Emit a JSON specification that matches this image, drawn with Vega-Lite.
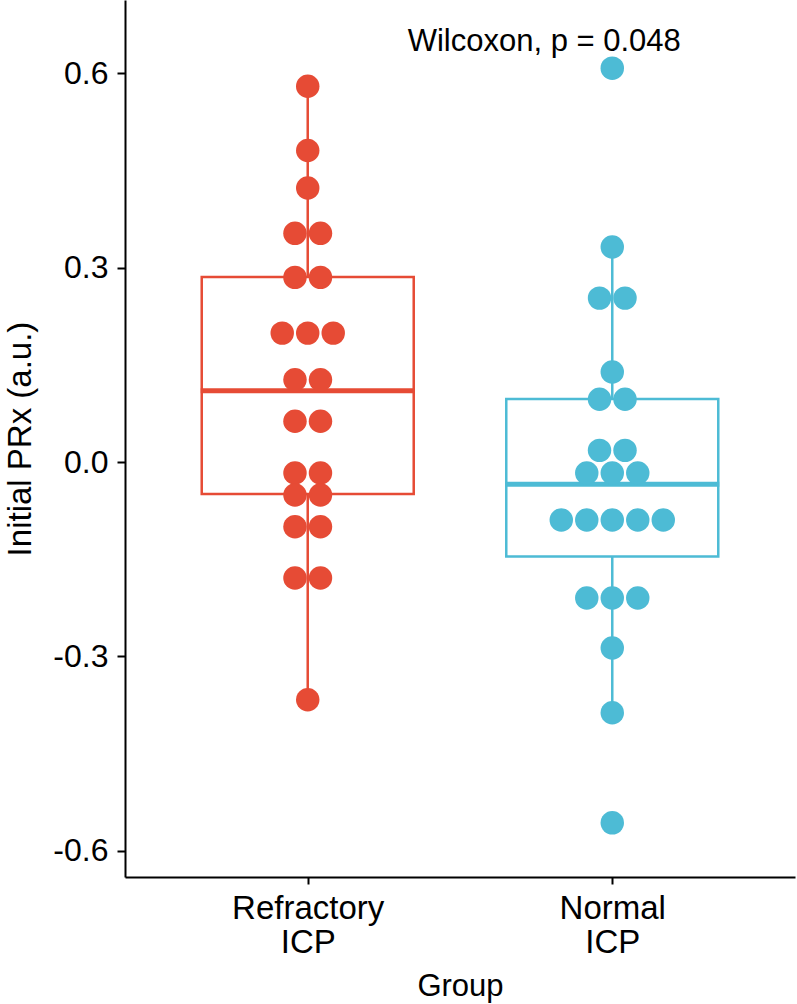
{
  "$schema": "https://vega.github.io/schema/vega-lite/v6.json",
  "width": 670,
  "height": 877,
  "autosize": "none",
  "padding": {"left": 125, "top": 0, "right": 2, "bottom": 127},
  "background": "white",
  "config": {
    "view": {"stroke": null},
    "font": "Liberation Sans",
    "axis": {
      "grid": false,
      "domainColor": "black",
      "domainWidth": 2,
      "tickColor": "black",
      "tickWidth": 2,
      "labelColor": "black",
      "titleColor": "black",
      "titleFontWeight": "normal",
      "titleFont": "Liberation Sans",
      "labelFont": "Liberation Sans"
    }
  },
  "datasets": {
    "dots": [
      {"group": "Refractory ICP", "prx": 0.580},
      {"group": "Refractory ICP", "prx": 0.481},
      {"group": "Refractory ICP", "prx": 0.423},
      {"group": "Refractory ICP", "prx": 0.353},
      {"group": "Refractory ICP", "prx": 0.353},
      {"group": "Refractory ICP", "prx": 0.285},
      {"group": "Refractory ICP", "prx": 0.285},
      {"group": "Refractory ICP", "prx": 0.199},
      {"group": "Refractory ICP", "prx": 0.199},
      {"group": "Refractory ICP", "prx": 0.199},
      {"group": "Refractory ICP", "prx": 0.127},
      {"group": "Refractory ICP", "prx": 0.127},
      {"group": "Refractory ICP", "prx": 0.063},
      {"group": "Refractory ICP", "prx": 0.063},
      {"group": "Refractory ICP", "prx": -0.017},
      {"group": "Refractory ICP", "prx": -0.017},
      {"group": "Refractory ICP", "prx": -0.051},
      {"group": "Refractory ICP", "prx": -0.051},
      {"group": "Refractory ICP", "prx": -0.100},
      {"group": "Refractory ICP", "prx": -0.100},
      {"group": "Refractory ICP", "prx": -0.179},
      {"group": "Refractory ICP", "prx": -0.179},
      {"group": "Refractory ICP", "prx": -0.367},
      {"group": "Normal ICP", "prx": 0.608},
      {"group": "Normal ICP", "prx": 0.332},
      {"group": "Normal ICP", "prx": 0.253},
      {"group": "Normal ICP", "prx": 0.253},
      {"group": "Normal ICP", "prx": 0.139},
      {"group": "Normal ICP", "prx": 0.097},
      {"group": "Normal ICP", "prx": 0.097},
      {"group": "Normal ICP", "prx": 0.018},
      {"group": "Normal ICP", "prx": 0.018},
      {"group": "Normal ICP", "prx": -0.017},
      {"group": "Normal ICP", "prx": -0.017},
      {"group": "Normal ICP", "prx": -0.017},
      {"group": "Normal ICP", "prx": -0.0895},
      {"group": "Normal ICP", "prx": -0.0895},
      {"group": "Normal ICP", "prx": -0.0895},
      {"group": "Normal ICP", "prx": -0.0895},
      {"group": "Normal ICP", "prx": -0.0895},
      {"group": "Normal ICP", "prx": -0.210},
      {"group": "Normal ICP", "prx": -0.210},
      {"group": "Normal ICP", "prx": -0.210},
      {"group": "Normal ICP", "prx": -0.287},
      {"group": "Normal ICP", "prx": -0.387},
      {"group": "Normal ICP", "prx": -0.557}
    ],
    "boxes": [
      {"group": "Refractory ICP", "lower": -0.367, "q1": -0.0494, "median": 0.110, "q3": 0.2856, "upper": 0.580},
      {"group": "Normal ICP", "lower": -0.387, "q1": -0.146, "median": -0.0345, "q3": 0.0973, "upper": 0.332}
    ]
  },
  "encoding": {
    "x": {
      "field": "group",
      "type": "nominal",
      "sort": null,
      "title": "Group",
      "scale": {"type": "point", "padding": 0.6, "domain": ["Refractory ICP", "Normal ICP"]},
      "axis": {
        "labelAngle": 0,
        "labelFontSize": 33,
        "labelLineHeight": 34,
        "labelPadding": 8,
        "tickSize": 7,
        "titleFontSize": 31,
        "titlePadding": 12,
        "labelExpr": "split(datum.label, ' ')"
      }
    }
  },
  "layer": [
    {
      "data": {"name": "boxes"},
      "mark": {"type": "rule", "strokeWidth": 2.5},
      "encoding": {
        "y": {
          "field": "lower",
          "type": "quantitative",
          "title": "Initial PRx (a.u.)",
          "scale": {"domain": [-0.6406, 0.7132], "nice": false, "zero": false},
          "axis": {
            "values": [-0.6, -0.3, 0, 0.3, 0.6],
            "labelExpr": "(datum.value < 0 ? '-' : '') + format(abs(datum.value), '.1f')",
            "labelFontSize": 32,
            "labelPadding": 9,
            "tickSize": 8,
            "titleFontSize": 33,
            "titlePadding": 15
          }
        },
        "y2": {"field": "upper"},
        "color": {
          "field": "group",
          "type": "nominal",
          "scale": {"domain": ["Refractory ICP", "Normal ICP"], "range": ["#E64B35", "#4DBBD5"]},
          "legend": null
        }
      }
    },
    {
      "data": {"name": "boxes"},
      "mark": {"type": "bar", "size": 212, "fill": "white", "strokeWidth": 2.5},
      "encoding": {
        "y": {"field": "q1", "type": "quantitative", "title": "Initial PRx (a.u.)"},
        "y2": {"field": "q3"},
        "stroke": {
          "field": "group",
          "type": "nominal",
          "scale": {"domain": ["Refractory ICP", "Normal ICP"], "range": ["#E64B35", "#4DBBD5"]},
          "legend": null
        }
      }
    },
    {
      "data": {"name": "boxes"},
      "mark": {"type": "tick", "size": 214, "thickness": 5, "opacity": 1},
      "encoding": {
        "y": {"field": "median", "type": "quantitative", "title": "Initial PRx (a.u.)"},
        "color": {"field": "group", "type": "nominal", "legend": null}
      }
    },
    {
      "data": {"name": "dots"},
      "transform": [
        {"window": [{"op": "row_number", "as": "k"}], "groupby": ["group", "prx"]},
        {"joinaggregate": [{"op": "count", "as": "n"}], "groupby": ["group", "prx"]},
        {"calculate": "datum.k - (datum.n + 1) / 2", "as": "slot"}
      ],
      "mark": {"type": "circle", "size": 550, "opacity": 1},
      "encoding": {
        "y": {"field": "prx", "type": "quantitative", "title": "Initial PRx (a.u.)"},
        "xOffset": {"field": "slot", "type": "quantitative", "scale": {"domain": [-1, 1], "range": [-25.5, 25.5]}},
        "color": {"field": "group", "type": "nominal", "legend": null}
      }
    },
    {
      "data": {"values": [{"label": "Wilcoxon, p = 0.048"}]},
      "mark": {"type": "text", "fontSize": 31, "align": "center", "baseline": "alphabetic", "dx": -68, "color": "black", "font": "Liberation Sans"},
      "encoding": {
        "x": {"datum": "Normal ICP", "type": "nominal"},
        "y": {"datum": 0.634, "type": "quantitative"},
        "text": {"field": "label"}
      }
    }
  ]
}
